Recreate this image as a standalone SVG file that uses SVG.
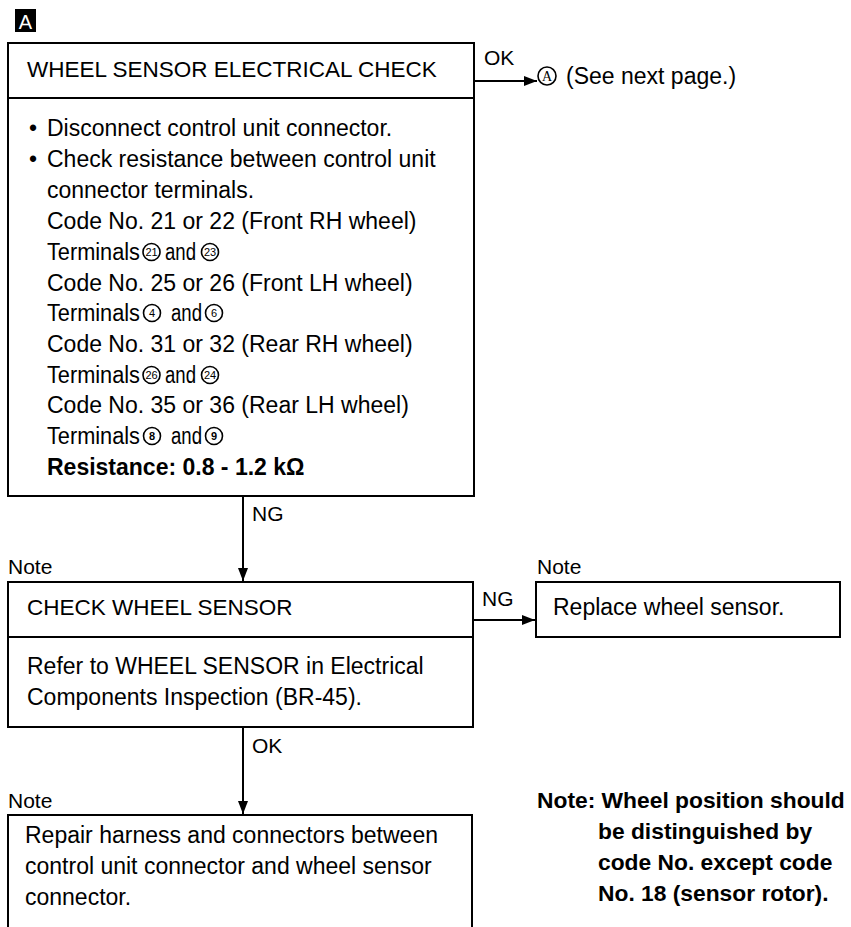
<svg xmlns="http://www.w3.org/2000/svg" width="851" height="927" viewBox="0 0 851 927">
  <style>
    text { font-family: "Liberation Sans", Arial, sans-serif; font-size: 23px; fill: #000; }
    .b { font-weight: bold; }
    .hd { font-size: 22.5px; }
    .nb { font-size: 22.8px; font-weight: bold; }
    .box { fill: none; stroke: #000; stroke-width: 2; }
    .wire { fill: none; stroke: #000; stroke-width: 2; }
    .ring { fill: none; stroke: #000; stroke-width: 1.6; }
    .num { font-size: 11px; text-anchor: middle; }
    .lbl { font-size: 21px; }
  </style>
  <defs>
    <marker id="arrow" viewBox="0 0 13 10" refX="13" refY="5" markerWidth="13" markerHeight="10" markerUnits="userSpaceOnUse" orient="auto">
      <path d="M0,0 L13,5 L0,10 Z" fill="#000"/>
    </marker>
  </defs>

  <rect width="851" height="927" fill="#fff"/>

  <!-- section badge -->
  <g id="badge">
    <rect x="15" y="9" width="21" height="23" fill="#000"/>
    <text x="25.5" y="29" text-anchor="middle" style="fill:#fff;font-size:20px">A</text>
  </g>

  <!-- step 1: electrical check -->
  <g id="electrical-check">
    <rect class="box" x="8" y="43" width="466" height="453"/>
    <line class="box" x1="8" y1="98" x2="474" y2="98"/>
    <text class="hd" x="27" y="77">WHEEL SENSOR ELECTRICAL CHECK</text>
    <text x="29" y="136">•</text>
    <text x="47" y="136">Disconnect control unit connector.</text>
    <text x="29" y="167">•</text>
    <text x="47" y="167">Check resistance between control unit</text>
    <text x="47" y="198">connector terminals.</text>
    <text x="47" y="229">Code No. 21 or 22 (Front RH wheel)</text>
    <text x="47" y="260" textLength="93" lengthAdjust="spacingAndGlyphs">Terminals</text>
    <circle class="ring" cx="151.5" cy="252" r="8.5"/><text class="num" x="151.5" y="256">21</text>
    <text x="165" y="260" textLength="31" lengthAdjust="spacingAndGlyphs">and</text>
    <circle class="ring" cx="210" cy="252" r="8.5"/><text class="num" x="210" y="256">23</text>
    <text x="47" y="291">Code No. 25 or 26 (Front LH wheel)</text>
    <text x="47" y="321" textLength="93" lengthAdjust="spacingAndGlyphs">Terminals</text>
    <circle class="ring" cx="152" cy="313" r="8.5"/><text class="num" x="152" y="317">4</text>
    <text x="171" y="321" textLength="31" lengthAdjust="spacingAndGlyphs">and</text>
    <circle class="ring" cx="214" cy="313" r="8.5"/><text class="num" x="214" y="317">6</text>
    <text x="47" y="352">Code No. 31 or 32 (Rear RH wheel)</text>
    <text x="47" y="383" textLength="93" lengthAdjust="spacingAndGlyphs">Terminals</text>
    <circle class="ring" cx="151.5" cy="375" r="8.5"/><text class="num" x="151.5" y="379">26</text>
    <text x="165" y="383" textLength="31" lengthAdjust="spacingAndGlyphs">and</text>
    <circle class="ring" cx="210" cy="375" r="8.5"/><text class="num" x="210" y="379">24</text>
    <text x="47" y="413">Code No. 35 or 36 (Rear LH wheel)</text>
    <text x="47" y="444" textLength="93" lengthAdjust="spacingAndGlyphs">Terminals</text>
    <circle class="ring" cx="152" cy="436" r="8.5"/><text class="num b" x="152" y="440">8</text>
    <text x="171" y="444" textLength="31" lengthAdjust="spacingAndGlyphs">and</text>
    <circle class="ring" cx="214" cy="436" r="8.5"/><text class="num b" x="214" y="440">9</text>
    <text class="b" x="47" y="475">Resistance: 0.8 - 1.2 kΩ</text>
  </g>

  <!-- continuation reference -->
  <g id="next-page">
    <circle class="ring" cx="547" cy="76" r="9"/>
    <text x="547" y="81" style="font-size:14px;text-anchor:middle;font-family:'Liberation Serif',serif">A</text>
    <text x="566" y="84">(See next page.)</text>
  </g>

  <!-- step 2: sensor check -->
  <g id="check-sensor">
    <text x="8" y="574" class="lbl">Note</text>
    <rect class="box" x="8" y="582" width="465" height="145"/>
    <line class="box" x1="8" y1="637" x2="473" y2="637"/>
    <text class="hd" x="27" y="615">CHECK WHEEL SENSOR</text>
    <text x="27" y="674">Refer to WHEEL SENSOR in Electrical</text>
    <text x="27" y="705">Components Inspection (BR-45).</text>
  </g>

  <!-- replace sensor -->
  <g id="replace-sensor">
    <text x="537" y="574" class="lbl">Note</text>
    <rect class="box" x="536" y="582" width="304" height="55"/>
    <text x="553" y="615">Replace wheel sensor.</text>
  </g>

  <!-- repair harness -->
  <g id="repair-harness">
    <text x="8" y="808" class="lbl">Note</text>
    <path class="box" d="M8,927 V815 H472 V927"/>
    <text x="25" y="843">Repair harness and connectors between</text>
    <text x="25" y="874">control unit connector and wheel sensor</text>
    <text x="25" y="905">connector.</text>
  </g>

  <!-- general note -->
  <g id="general-note">
    <text class="nb" x="537" y="808">Note: Wheel position should</text>
    <text class="nb" x="598" y="839">be distinguished by</text>
    <text class="nb" x="598" y="870">code No. except code</text>
    <text class="nb" x="598" y="901">No. 18 (sensor rotor).</text>
  </g>

  <!-- connectors -->
  <g id="connectors">
    <line class="wire" x1="474" y1="81" x2="537" y2="81" marker-end="url(#arrow)"/>
    <text class="lbl" x="484" y="65">OK</text>
    <line class="wire" x1="243" y1="496" x2="243" y2="581" marker-end="url(#arrow)"/>
    <text class="lbl" x="252" y="521">NG</text>
    <line class="wire" x1="473" y1="620" x2="535" y2="620" marker-end="url(#arrow)"/>
    <text class="lbl" x="482" y="606">NG</text>
    <line class="wire" x1="243" y1="727" x2="243" y2="814" marker-end="url(#arrow)"/>
    <text class="lbl" x="252" y="753">OK</text>
  </g>
</svg>
